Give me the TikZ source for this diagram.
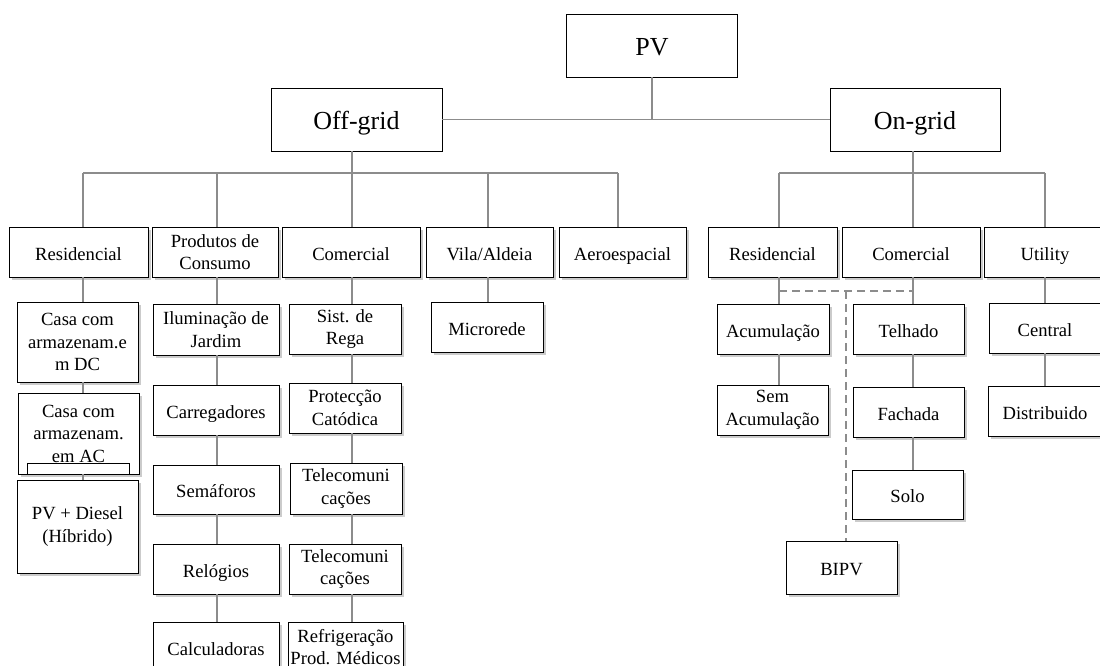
\documentclass[tikz,border=0pt]{standalone}
\usepackage{fontspec}
\setmainfont{Liberation Serif}
\usetikzlibrary{shadows}
\definecolor{lin}{RGB}{140,140,140}
\begin{document}
\begin{tikzpicture}[x=1pt,y=-1pt,
  box/.style={draw=black, line width=0.9pt, fill=white, align=center, inner sep=1pt,
    font=\fontsize{18.6}{22.5}\selectfont},
  one/.style={text height=17pt, text depth=1pt},
  topbox/.style={box, font=\fontsize{26}{30}\selectfont, text height=22pt, text depth=1pt},
  sh/.style={drop shadow={shadow xshift=2.5pt, shadow yshift=-2.5pt, fill=black!45, opacity=0.45}},
  wh/.style 2 args={minimum width=#1, minimum height=#2},
  conn/.style={draw=lin, line width=1.6pt},
  dconn/.style={draw=lin, line width=1.6pt, dash pattern=on 8pt off 5pt}]
\useasboundingbox (0,0) rectangle (1100,666);

% top level
\node[topbox, wh={171}{63}] (PV) at (652,45.5) {PV};
\node[topbox, wh={171}{63}] (Off) at (356.5,119.5) {Off-grid};
\node[topbox, wh={170}{63}] (On) at (915,119.5) {On-grid};

% level 2 off-grid
\node[box, sh, one, wh={139}{50}] (ResO) at (78.5,252) {Residencial};
\node[box, sh, wh={126}{50}] (Prod) at (215,252) {Produtos de\\Consumo};
\node[box, sh, one, wh={138}{50}] (ComO) at (351,252) {Comercial};
\node[box, sh, one, wh={127}{50}] (Vila) at (489.5,252) {Vila/Aldeia};
\node[box, sh, one, wh={127}{50}] (Aero) at (622.5,252) {Aeroespacial};

% level 2 on-grid
\node[box, sh, one, wh={129}{50}] (ResN) at (772.5,252) {Residencial};
\node[box, sh, one, wh={138}{50}] (ComN) at (911,252) {Comercial};
\node[box, sh, one, wh={122}{50}] (Util) at (1045,252) {Utility};

% off-grid residencial column
\node[box, sh, wh={121}{80}] (CasaDC) at (77.5,342) {Casa com\\armazenam.e\\m DC};
\node[box, sh, wh={121}{81}] (CasaAC) at (78.5,433.5) {Casa com\\armazenam.\\em AC};
\node[draw=black, line width=0.9pt, fill=white, wh={102}{11}, inner sep=0pt] (Inner) at (78,468.5) {};
\node[box, sh, wh={121}{93}] (Diesel) at (77.5,526.5) {PV + Diesel\\(Híbrido)};

% produtos column
\node[box, sh, wh={126}{51}] (Ilum) at (216,329.5) {Iluminação de\\Jardim};
\node[box, sh, one, wh={126}{50}] (Carr) at (216,410) {Carregadores};
\node[box, sh, one, wh={126}{49}] (Sema) at (216,489.5) {Semáforos};
\node[box, sh, one, wh={126}{50}] (Relo) at (216,569) {Relógios};
\node[box, sh, one, wh={126}{50}] (Calc) at (216,647) {Calculadoras};

% comercial off-grid column
\node[box, sh, wh={112}{50}] (Rega) at (345,329) {Sist. de\\Rega};
\node[box, sh, wh={112}{50}] (Prot) at (345,408) {Protecção\\Catódica};
\node[box, sh, wh={112}{51}] (TelA) at (346,488.5) {Telecomuni\\cações};
\node[box, sh, wh={112}{50}] (TelB) at (345,569) {Telecomuni\\cações};
\node[box, sh, wh={115}{50}] (Refr) at (345.5,647) {Refrigeração\\Prod. Médicos};

% vila column
\node[box, sh, one, wh={112}{50}] (Micro) at (487,327) {Microrede};

% on-grid residencial column
\node[box, sh, one, wh={112}{50}] (Acum) at (773,329) {Acumulação};
\node[box, sh, wh={111}{50}] (SemA) at (772.5,410) {Sem\\Acumulação};

% on-grid comercial column
\node[box, sh, one, wh={111}{50}] (Telh) at (908.5,329) {Telhado};
\node[box, sh, one, wh={111}{50}] (Fach) at (908.5,412) {Fachada};
\node[box, sh, one, wh={111}{49}] (Solo) at (907.5,494.5) {Solo};
\node[box, sh, one, wh={111}{53}] (BIPV) at (841.5,567.5) {BIPV};

% utility column
\node[box, sh, one, wh={112}{50}] (Cent) at (1045,328) {Central};
\node[box, sh, one, wh={114}{50}] (Dist) at (1045,411) {Distribuido};

% connectors: top
\draw[conn] (Off.east) -- (On.west);
\draw[conn] (PV.south) -- (PV.south |- Off.east);

% off-grid bus
\coordinate (xRO) at (83,173);
\coordinate (xPr) at (217,173);
\coordinate (xCO) at (352,173);
\coordinate (xVi) at (488,173);
\coordinate (xAe) at (618,173);
\draw[conn] (Off.south -| xCO) -- (xCO);
\draw[conn] (xRO) -- (xAe);
\draw[conn] (xRO) -- (xRO |- ResO.north);
\draw[conn] (xPr) -- (xPr |- Prod.north);
\draw[conn] (xCO) -- (xCO |- ComO.north);
\draw[conn] (xVi) -- (xVi |- Vila.north);
\draw[conn] (xAe) -- (xAe |- Aero.north);

% on-grid bus
\coordinate (xRN) at (779,173);
\coordinate (xCN) at (913,173);
\coordinate (xUt) at (1045,173);
\draw[conn] (On.south -| xCN) -- (xCN);
\draw[conn] (xRN) -- (xUt);
\draw[conn] (xRN) -- (xRN |- ResN.north);
\draw[conn] (xCN) -- (xCN |- ComN.north);
\draw[conn] (xUt) -- (xUt |- Util.north);

% off-grid residencial
\draw[conn] (ResO.south -| xRO) -- (CasaDC.north -| xRO);
\draw[conn] (CasaDC.south -| xRO) -- (CasaAC.north -| xRO);
\draw[conn] (CasaAC.south -| xRO) -- (Diesel.north -| xRO);

% produtos
\draw[conn] (Prod.south -| xPr) -- (Ilum.north -| xPr);
\draw[conn] (Ilum.south -| xPr) -- (Carr.north -| xPr);
\draw[conn] (Carr.south -| xPr) -- (Sema.north -| xPr);
\draw[conn] (Sema.south -| xPr) -- (Relo.north -| xPr);
\draw[conn] (Relo.south -| xPr) -- (Calc.north -| xPr);

% comercial off-grid
\draw[conn] (ComO.south -| xCO) -- (Rega.north -| xCO);
\draw[conn] (Rega.south -| xCO) -- (Prot.north -| xCO);
\draw[conn] (Prot.south -| xCO) -- (TelA.north -| xCO);
\draw[conn] (TelA.south -| xCO) -- (TelB.north -| xCO);
\draw[conn] (TelB.south -| xCO) -- (Refr.north -| xCO);

% vila
\draw[conn] (Vila.south -| xVi) -- (Micro.north -| xVi);

% on-grid residencial
\draw[conn] (ResN.south -| xRN) -- (Acum.north -| xRN);
\draw[conn] (Acum.south -| xRN) -- (SemA.north -| xRN);

% on-grid comercial
\draw[conn] (ComN.south -| xCN) -- (Telh.north -| xCN);
\draw[conn] (Telh.south -| xCN) -- (Fach.north -| xCN);
\draw[conn] (Fach.south -| xCN) -- (Solo.north -| xCN);

% utility
\draw[conn] (Util.south -| xUt) -- (Cent.north -| xUt);
\draw[conn] (Cent.south -| xUt) -- (Dist.north -| xUt);

% dashed BIPV link
\coordinate (d1) at (779,291);
\coordinate (d2) at (913,291);
\coordinate (d3) at (846,291);
\draw[dconn] (d1) -- (d2);
\draw[dconn] (d3) -- (d3 |- BIPV.north);
\end{tikzpicture}
\end{document}
